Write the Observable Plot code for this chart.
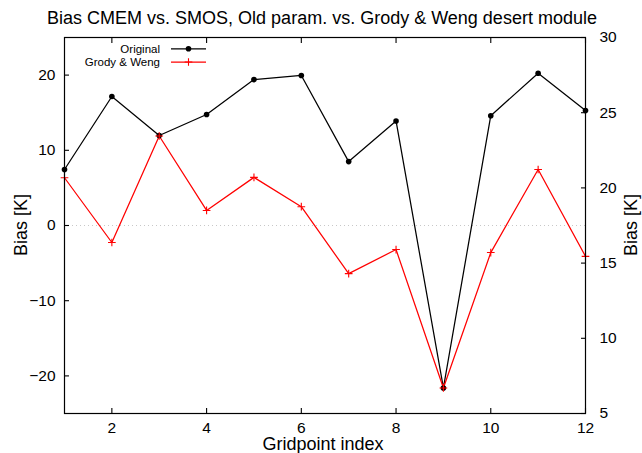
<!DOCTYPE html>
<html>
<head>
<meta charset="utf-8">
<script src="https://cdn.jsdelivr.net/npm/d3@7"></script>
<script src="https://cdn.jsdelivr.net/npm/@observablehq/plot@0.6"></script>
<style>
  html, body { margin: 0; padding: 0; background: #fff; }
  #chart svg { display: block; }
</style>
</head>
<body>
<div id="chart"></div>
<script>
// Gridpoint indices and bias values (K) for the two runs
const gridpoints = [1, 2, 3, 4, 5, 6, 7, 8, 9, 10, 11, 12];
const original   = [7.45, 17.15, 11.97, 14.76, 19.4, 19.95, 8.5, 13.9, -21.6, 14.6, 20.25, 15.3];
const grodyWeng  = [6.35, -2.26, 11.9, 2.0, 6.4, 2.5, -6.4, -3.2, -21.6, -3.6, 7.45, -4.1];

// Tick labels
const xTicks = [2, 4, 6, 8, 10, 12];
const leftTicks = [-20, -10, 0, 10, 20];
const rightTicks = [5, 10, 15, 20, 25, 30];

const seriesNames = ["Original", "Grody & Weng"];
const seriesColors = ["#000000", "#ff0000"];

// Right axis (5..30) is a linear relabelling of the left axis (-25..25)
const rightToLeft = r => (r - 5) * 2 - 25;
const leftToRight = l => (l + 25) / 2 + 5;

const rows = gridpoints.flatMap((g, i) => [
  {g, v: original[i], s: seriesNames[0]},
  {g, v: grodyWeng[i], s: seriesNames[1]}
]);

const W = 642, H = 453;
const font = "'Liberation Sans', Arial, Helvetica, sans-serif";
const plusR = 2.6;

const plot = Plot.plot({
  width: W,
  height: H,
  marginLeft: 64,
  marginRight: 57,
  marginTop: 37,
  marginBottom: 40,
  style: {fontFamily: font, fontSize: "15.5px", color: "#000", background: "#fff"},
  x: {domain: [1, 12]},
  y: {domain: [-25, 25]},
  color: {domain: seriesNames, range: seriesColors},
  marks: [
    Plot.ruleY([0], {stroke: "#c8c8c8", strokeDasharray: "1,3", strokeWidth: 1}),
    Plot.axisX(xTicks, {anchor: "bottom", tickSize: -5, tickPadding: 13, label: null, strokeWidth: 1.1}),
    Plot.axisX(xTicks, {anchor: "top", tickSize: -5, fill: "none", label: null, strokeWidth: 1.1}),
    Plot.axisY(leftTicks, {anchor: "left", tickSize: -5, tickPadding: 14, label: null, strokeWidth: 1.1}),
    Plot.axisY(rightTicks.map(rightToLeft), {anchor: "right", tickSize: -5, tickPadding: 19, label: null,
      tickFormat: d => String(leftToRight(d)), strokeWidth: 1.1}),
    Plot.line(rows, {x: "g", y: "v", z: "s", stroke: "s", strokeWidth: 1.25}),
    Plot.dot(rows.filter(d => d.s === seriesNames[0]), {x: "g", y: "v", r: 2.8, fill: "s", stroke: null}),
    Plot.dot(rows.filter(d => d.s === seriesNames[1]), {x: "g", y: "v", r: plusR, symbol: "plus", stroke: "s", strokeWidth: 1.1}),
    Plot.frame({stroke: "#000", strokeWidth: 1.2})
  ]
});

document.getElementById("chart").appendChild(plot);

// Title, axis titles and key drawn into the same SVG
const svg = d3.select(plot);
const txt = (x, y, s, size, anchor, rot) => {
  const t = svg.append("text")
    .attr("x", x).attr("y", y)
    .attr("font-family", font)
    .attr("font-size", size)
    .attr("text-anchor", anchor)
    .attr("fill", "#000")
    .text(s);
  if (rot) t.attr("transform", `rotate(${rot},${x},${y})`);
  return t;
};

txt(322, 24, "Bias CMEM vs. SMOS, Old param. vs. Grody & Weng desert module", "18px", "middle");
txt(323, 450, "Gridpoint index", "18px", "middle");
txt(27, 225, "Bias [K]", "18px", "middle", -90);
txt(637, 225, "Bias [K]", "18px", "middle", -90);

// Key
const key = svg.append("g");
seriesNames.forEach((name, i) => {
  const y = 48.8 + i * 13.2;
  key.append("text")
    .attr("x", 160).attr("y", y + 4)
    .attr("font-family", font).attr("font-size", "11.5px")
    .attr("text-anchor", "end").attr("fill", "#000")
    .text(name);
  key.append("line")
    .attr("x1", 171).attr("x2", 206).attr("y1", y).attr("y2", y)
    .attr("stroke", seriesColors[i]).attr("stroke-width", 1.25);
  if (i === 0) {
    key.append("circle").attr("cx", 188.5).attr("cy", y).attr("r", 2.8).attr("fill", seriesColors[i]);
  } else {
    key.append("path")
      .attr("transform", `translate(188.5,${y})`)
      .attr("d", d3.symbol(d3.symbolPlus, Math.PI * plusR * plusR)())
      .attr("fill", "none").attr("stroke", seriesColors[i]).attr("stroke-width", 1.1);
  }
});
</script>
</body>
</html>
